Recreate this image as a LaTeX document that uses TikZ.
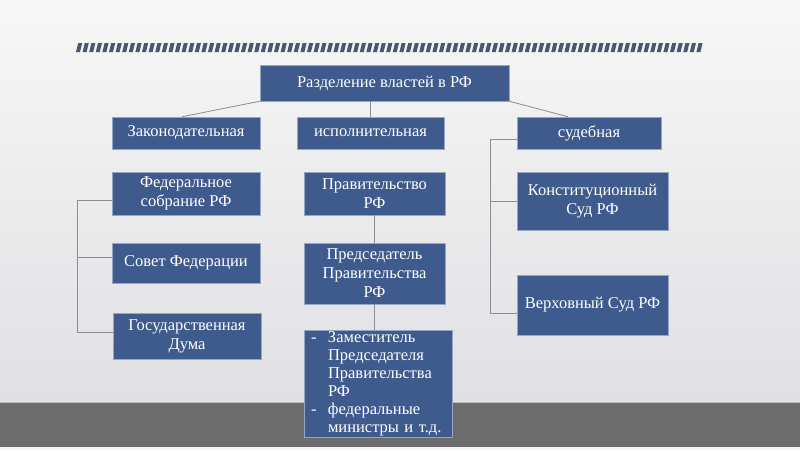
\documentclass[tikz,border=0pt]{standalone}
\usepackage{fontspec}
\setmainfont{Liberation Serif}
\usetikzlibrary{calc}
\definecolor{boxblue}{RGB}{63,90,140}
\definecolor{boxedge}{RGB}{150,165,195}
\definecolor{conncol}{RGB}{140,140,145}
\definecolor{hatchcol}{RGB}{75,86,112}
\definecolor{floorcol}{RGB}{108,108,108}
\definecolor{bgtop}{RGB}{247,247,247}
\definecolor{bgbot}{RGB}{224,224,227}
\begin{document}
\begin{tikzpicture}[x=1pt,y=-1pt,
  box/.style={draw=boxedge, line width=0.5pt, fill=boxblue, text=white,
    font=\fontsize{16.5}{19}\selectfont, align=center, inner sep=2pt},
  conn/.style={draw=conncol, line width=0.8pt}]
\useasboundingbox (0,0) rectangle (800,450);
% background
\shade[top color=bgtop, bottom color=bgbot] (0,0) rectangle (800,402);
\fill[floorcol] (0,402) rectangle (800,447);
\fill[gray!8] (0,447) rectangle (800,450);
\draw[gray!55, line width=1pt] (0,402.5) -- (800,402.5);
% hatched stripe
\foreach \i in {0,...,94} {
  \fill[hatchcol] ({76+\i*6.6},52) -- ({80+\i*6.6},52) -- ({82.2+\i*6.6},43) -- ({78.2+\i*6.6},43) -- cycle;
}
% nodes
\node[box, minimum width=249pt, minimum height=36pt] (top) at (384.5,83) {Разделение властей в РФ};
\node[box, minimum width=148pt, minimum height=32pt] (zak) at (186,133) {Законодательная};
\node[box, minimum width=147pt, minimum height=32pt] (isp) at (370.5,133) {исполнительная};
\node[box, minimum width=144pt, minimum height=32pt] (sud) at (589,133) {судебная};
\node[box, minimum width=148pt, minimum height=43pt] (fs) at (186,193.5) {Федеральное\\собрание РФ};
\node[box, minimum width=148pt, minimum height=40pt] (sf) at (186,263) {Совет Федерации};
\node[box, minimum width=148pt, minimum height=46pt] (gd) at (187,336) {Государственная\\Дума};
\node[box, minimum width=141pt, minimum height=43pt] (prav) at (374.5,193.5) {Правительство\\РФ};
\node[box, minimum width=141pt, minimum height=61pt] (pred) at (374.5,273.5) {Председатель\\Правительства\\РФ};
\node[box, minimum width=148pt, minimum height=107pt, text width=134pt, inner xsep=7pt, inner ysep=0pt,
  align=left, font=\fontsize{16.5}{18}\selectfont] (lst) at (378,383.5)
  {\makebox[17pt][l]{-}Заместитель\\\hspace*{17pt}Председателя\\\hspace*{17pt}Правительства\\\hspace*{17pt}РФ\\\makebox[17pt][l]{-}федеральные\\\hspace*{17pt}министры и т.д.};
\node[box, minimum width=151pt, minimum height=58pt] (ks) at (592.5,201) {Конституционный\\Суд РФ};
\node[box, minimum width=151pt, minimum height=60pt] (vs) at (592.5,305) {Верховный Суд РФ};
% connectors from the top
\draw[conn] (top.south west) -- ([xshift=-4pt]zak.north);
\draw[conn] (isp.north) -- (isp.north |- top.south);
\draw[conn] (top.south east) -- ([xshift=-21pt]sud.north);
% left bracket
\coordinate (lx) at (77,0);
\coordinate (l1) at ([yshift=-6.5pt]fs.west);
\coordinate (l2) at ([yshift=6pt]sf.west);
\coordinate (l3) at ([yshift=4pt]gd.west);
\draw[conn] (l1) -- (l1 -| lx) -- (l3 -| lx) -- (l3);
\draw[conn] (l2) -- (l2 -| lx);
% right bracket
\coordinate (rx) at (490,0);
\coordinate (r1) at ([yshift=-6pt]sud.west);
\coordinate (r2) at (ks.west);
\coordinate (r3) at ([yshift=-8pt]vs.west);
\draw[conn] (r1) -- (r1 -| rx) -- (r3 -| rx) -- (r3);
\draw[conn] (r2) -- (r2 -| rx);
% middle chain
\draw[conn] (prav.south) -- (pred.north);
\draw[conn] (pred.south) -- (pred.south |- lst.north);
\end{tikzpicture}
\end{document}
